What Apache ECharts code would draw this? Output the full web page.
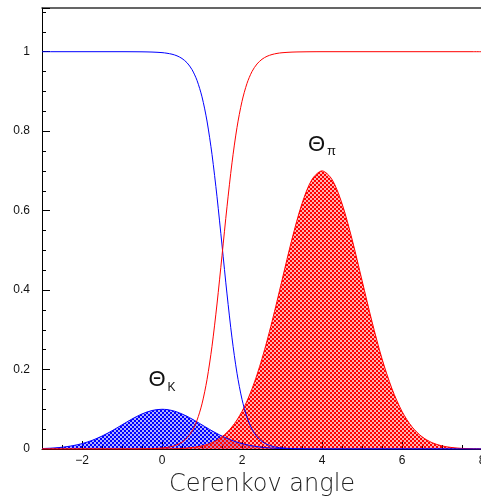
<!DOCTYPE html>
<html>
<head>
<meta charset="utf-8">
<script src="https://cdn.jsdelivr.net/npm/echarts@6/dist/echarts.min.js"></script>
<style>
  html, body { margin: 0; padding: 0; background: #fff; }
  #chart { width: 481px; height: 497px; }
</style>
</head>
<body>
<div id="chart"></div>
<script>
// Sample positions along the Cerenkov angle axis (finer through the crossover region)
const angles = [
  -3, -2.75, -2.5, -2.25, -2, -1.75, -1.5, -1.25, -1, -0.75, -0.5, -0.25, 0,
  0.125, 0.25, 0.375, 0.5, 0.625, 0.75, 0.875, 1, 1.125, 1.25, 1.375, 1.5,
  1.625, 1.75, 1.875, 2, 2.125, 2.25, 2.375, 2.5, 2.625, 2.75, 2.875, 3,
  3.25, 3.5, 3.75, 4, 4.25, 4.5, 4.75, 5, 5.25, 5.5, 5.75, 6, 6.25, 6.5, 6.75, 7, 7.25, 7.5, 7.75, 8
];

// Kaon angle distribution (blue hatched peak)
const kaonDist = [
  0.0011, 0.0023, 0.0044, 0.0080, 0.0135, 0.0216, 0.0325, 0.0458, 0.0607, 0.0755, 0.0882, 0.0969, 0.1000,
  0.0992, 0.0969, 0.0932, 0.0882, 0.0823, 0.0755, 0.0682, 0.0607, 0.0531, 0.0458, 0.0389, 0.0325,
  0.0267, 0.0216, 0.0172, 0.0135, 0.0105, 0.0080, 0.0060, 0.0044, 0.0032, 0.0023, 0.0016, 0.0011,
  0.0005, 0.0002, 0.0001, 0, 0, 0, 0, 0, 0, 0, 0, 0, 0, 0, 0, 0, 0, 0, 0, 0
];

// Pion angle distribution (red hatched peak)
const pionDist = [
  0, 0, 0, 0, 0, 0, 0, 0, 0, 0, 0, 0.0001, 0.0002,
  0.0004, 0.0006, 0.0010, 0.0015, 0.0024, 0.0036, 0.0053, 0.0078, 0.0112, 0.0160, 0.0223, 0.0308,
  0.0417, 0.0557, 0.0732, 0.0947, 0.1207, 0.1514, 0.1869, 0.2273, 0.2720, 0.3205, 0.3718, 0.4246,
  0.5284, 0.6178, 0.6785, 0.7000, 0.6785, 0.6178, 0.5284, 0.4246, 0.3205, 0.2273, 0.1514, 0.0947,
  0.0557, 0.0308, 0.0160, 0.0078, 0.0036, 0.0015, 0.0006, 0.0002
];

// Probability of the kaon hypothesis
const kaonProb = [
  1, 1, 1, 1, 1, 1, 1, 1, 1, 0.9999, 0.9997, 0.9991, 0.9977,
  0.9961, 0.9937, 0.9896, 0.9829, 0.9722, 0.9550, 0.9278, 0.8864, 0.8255, 0.7415, 0.6350, 0.5135,
  0.3903, 0.2797, 0.1906, 0.1250, 0.0797, 0.0499, 0.0309, 0.0190, 0.0116, 0.0071, 0.0043, 0.0026,
  0.0010, 0.0004, 0.0001, 0, 0, 0, 0, 0, 0, 0, 0, 0, 0, 0, 0, 0, 0, 0, 0, 0
];

// Probability of the pion hypothesis
const pionProb = [
  0, 0, 0, 0, 0, 0, 0, 0, 0, 0.0001, 0.0003, 0.0009, 0.0023,
  0.0039, 0.0063, 0.0104, 0.0171, 0.0278, 0.0450, 0.0722, 0.1136, 0.1745, 0.2585, 0.3650, 0.4865,
  0.6097, 0.7203, 0.8094, 0.8750, 0.9203, 0.9501, 0.9691, 0.9810, 0.9884, 0.9929, 0.9957, 0.9974,
  0.9990, 0.9996, 0.9999, 1, 1, 1, 1, 1, 1, 1, 1, 1, 1, 1, 1, 1, 1, 1, 1, 1
];

const xLabelValues = [-2, 0, 2, 4, 6, 8];
const yLabelValues = [0, 0.2, 0.4, 0.6, 0.8, 1];

const BLUE = '#0000ff';
const RED = '#ff0000';

// Small checker tile used as a hatch fill; the light squares keep a faint tint
function hatch(solid, light) {
  const c = document.createElement('canvas');
  c.width = 4; c.height = 4;
  const g = c.getContext('2d');
  g.fillStyle = solid;
  g.fillRect(0, 0, 4, 4);
  g.clearRect(0, 0, 2, 2);
  g.clearRect(2, 2, 2, 2);
  g.fillStyle = light;
  g.fillRect(0, 0, 2, 2);
  g.fillRect(2, 2, 2, 2);
  return c;
}

const pairs = arr => angles.map((x, i) => [x, arr[i]]);
const fmtMinus = v => String(v).replace('-', '\u2212');

const chart = echarts.init(document.getElementById('chart'), null, { renderer: 'canvas' });

const baseX = {
  type: 'value', min: -3, max: 8, interval: 0.5,
  splitLine: { show: false }
};

const LABEL_FONT = 'Liberation Sans, Arial, sans-serif';

const thetaRich = (subSize, subPad) => ({
  t: { fontSize: 22, fontFamily: LABEL_FONT, color: '#111', verticalAlign: 'top', lineHeight: 26 },
  s: { fontSize: subSize, fontFamily: LABEL_FONT, color: '#111', verticalAlign: 'top', padding: [subPad, 0, 0, 2] }
});

chart.setOption({
  animation: false,
  backgroundColor: '#fff',
  grid: {
    left: 42, top: 8, width: 440, height: 441,
    outerBoundsMode: 'none', containLabel: false
  },
  xAxis: [
    Object.assign({}, baseX, {
      position: 'bottom',
      axisLine: { show: true, onZero: false, lineStyle: { color: '#000', width: 1 } },
      axisTick: { show: true, inside: true, length: 4, lineStyle: { color: '#000' } },
      axisLabel: {
        customValues: xLabelValues, margin: 6, fontSize: 12, color: '#111',
        fontFamily: LABEL_FONT, formatter: fmtMinus
      },
      name: 'Cerenkov angle', nameLocation: 'middle', nameGap: 24,
      nameTextStyle: { fontSize: 24, fontFamily: 'DejaVu Sans', fontWeight: 200, color: '#222', verticalAlign: 'top' }
    }),
    Object.assign({}, baseX, {
      position: 'bottom',
      axisLine: { show: false, onZero: false },
      axisTick: { show: true, inside: true, length: 8, customValues: xLabelValues, lineStyle: { color: '#000' } },
      axisLabel: { show: false }
    }),
    Object.assign({}, baseX, {
      position: 'top',
      axisLine: { show: true, onZero: false, lineStyle: { color: '#333', width: 1.5 } },
      axisTick: { show: false },
      axisLabel: { show: false }
    })
  ],
  yAxis: {
    type: 'value', min: 0, max: 1.11, interval: 0.2,
    splitLine: { show: false },
    axisLine: { show: true, onZero: false, lineStyle: { color: '#000', width: 1 } },
    axisTick: { show: true, inside: true, length: 8, lineStyle: { color: '#000' } },
    minorTick: { show: true, splitNumber: 4, length: 4, lineStyle: { color: '#000' } },
    axisLabel: { customValues: yLabelValues, margin: 12, fontSize: 12, color: '#111', fontFamily: LABEL_FONT }
  },
  series: [
    {
      name: 'K fill', type: 'line', data: pairs(kaonDist), smooth: 0.3,
      showSymbol: false, lineStyle: { width: 0 },
      areaStyle: { color: { image: hatch(BLUE, 'rgba(0,0,255,0.3)'), repeat: 'repeat' }, opacity: 1 },
      z: 2,
      markPoint: {
        symbolSize: 0,
        label: { show: true, position: 'inside', formatter: '{t|\u0398}{s|K}', rich: thetaRich(12, 13) },
        data: [{ coord: [0, 0.17] }]
      }
    },
    {
      name: 'pi fill', type: 'line', data: pairs(pionDist), smooth: 0.3,
      showSymbol: false, lineStyle: { width: 0 },
      areaStyle: { color: { image: hatch(RED, 'rgba(255,0,0,0.3)'), repeat: 'repeat' }, opacity: 1 },
      z: 3,
      markPoint: {
        symbolSize: 0,
        label: { show: true, position: 'inside', formatter: '{t|\u0398}{s|\u03c0}', rich: thetaRich(13, 11) },
        data: [{ coord: [4, 0.76] }]
      }
    },
    {
      name: 'K', type: 'line', data: pairs(kaonDist), smooth: 0.3,
      showSymbol: false, lineStyle: { color: BLUE, width: 1 }, z: 4
    },
    {
      name: 'pi', type: 'line', data: pairs(pionDist), smooth: 0.3,
      showSymbol: false, lineStyle: { color: RED, width: 1 }, z: 4
    },
    {
      name: 'P(K)', type: 'line', data: pairs(kaonProb), smooth: 0.3,
      showSymbol: false, lineStyle: { color: BLUE, width: 1 }, z: 5
    },
    {
      name: 'P(pi)', type: 'line', data: pairs(pionProb), smooth: 0.3,
      showSymbol: false, lineStyle: { color: RED, width: 1 }, z: 5
    }
  ]
});
</script>
</body>
</html>
